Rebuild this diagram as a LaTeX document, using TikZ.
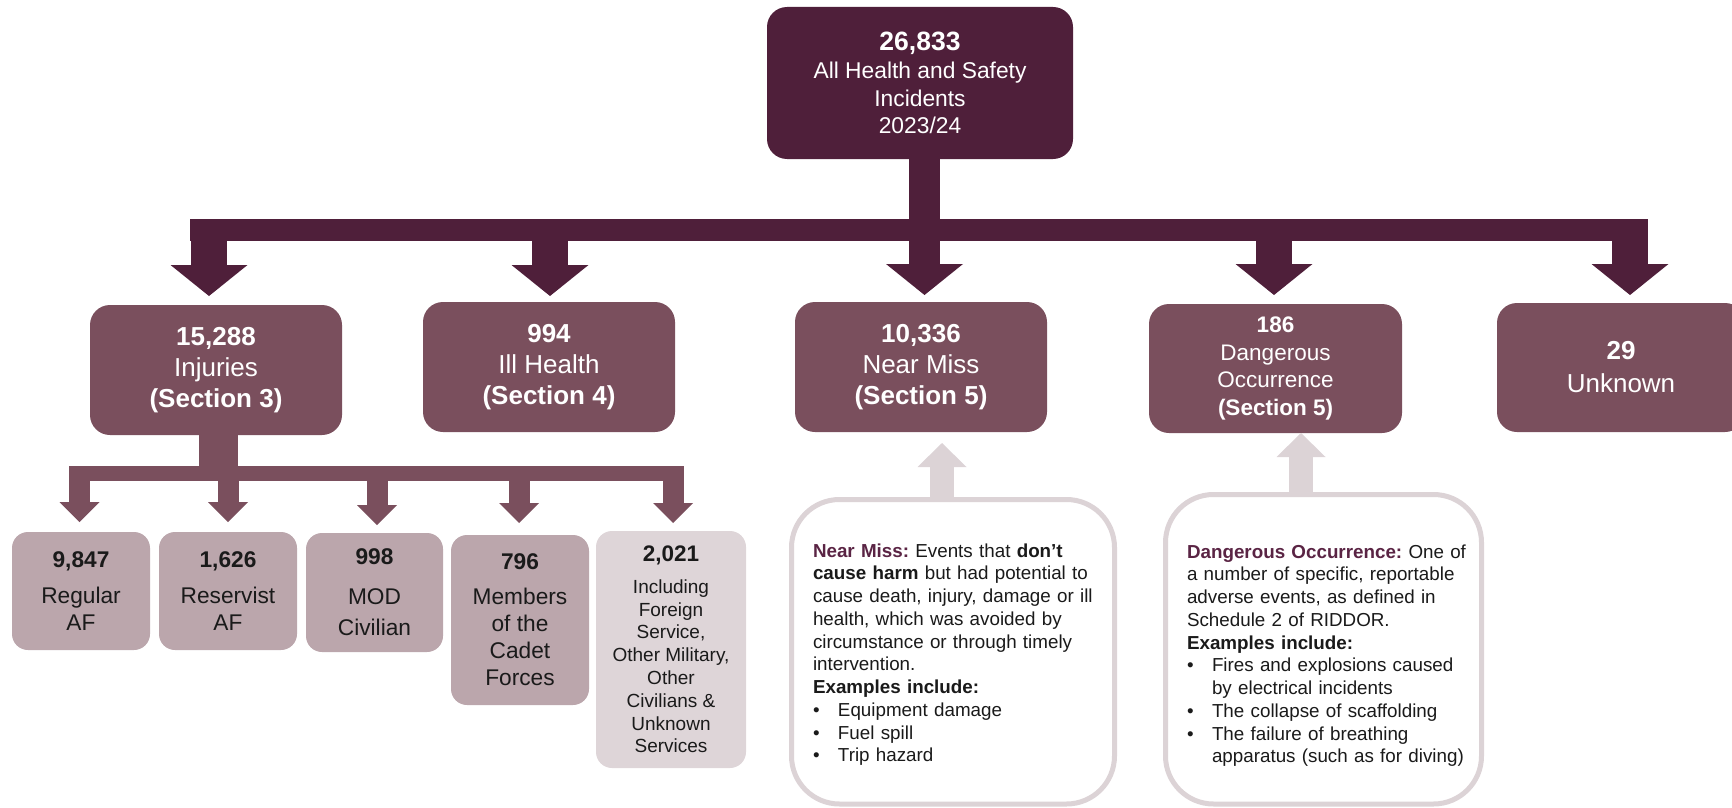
\documentclass[tikz,border=0pt]{standalone}
\usepackage{fontspec}
\setmainfont{Liberation Sans}
\usetikzlibrary{arrows.meta}
\definecolor{cdark}{HTML}{4F1F3A}
\definecolor{cmid}{HTML}{7A4F5D}
\definecolor{clight}{HTML}{BBA6AC}
\definecolor{clighter}{HTML}{DED5D8}
\definecolor{cborder}{HTML}{DCD3D6}
\definecolor{clabel}{HTML}{5A2444}
\definecolor{ctext}{HTML}{1A1A1A}
\newcommand{\myfs}[2]{\fontsize{#1}{#2}\selectfont}
\newcommand{\bul}{\makebox[25pt][l]{\textbullet}}
\frenchspacing
\begin{document}
\begin{tikzpicture}[x=1pt,y=-1pt,
  every node/.style={inner sep=0pt, outer sep=0pt},
  topbox/.style={fill=cdark, text=white, rounded corners=20pt, align=center},
  catbox/.style={fill=cmid, text=white, rounded corners=20pt, align=center, font=\myfs{26}{31}},
  subbox/.style={fill=clight, text=ctext, rounded corners=16pt, align=center, font=\myfs{22.7}{27}},
  subboxb/.style={fill=clighter, text=ctext, rounded corners=16pt, align=center, font=\myfs{19}{22.8}},
  descbox/.style={draw=cborder, line width=5pt, fill=white, rounded corners=48pt},
  desctext/.style={anchor=base west, align=left, text width=300pt, text=ctext, font=\myfs{18.8}{22.75}},
  darr/.style={draw=cdark, line width=36pt, -{Triangle[width=77pt,length=31pt,line width=0pt]}},
  sarr/.style={draw=cmid, line width=21pt, -{Triangle[width=40pt,length=20pt,line width=0pt]}},
  uarr/.style={draw=cborder, line width=24pt, -{Triangle[width=49pt,length=24pt,line width=0pt]}}
]
\useasboundingbox (0,0) rectangle (1732,808);
\clip (0,0) rectangle (1732,808);

% ---------- top ----------
\node[topbox, minimum width=306pt, minimum height=152pt, font=\myfs{22.8}{27.5}] (top) at (920,83)
  {{\myfs{26.5}{29}\textbf{26,833}}\\[1pt] All Health and Safety\\Incidents\\2023/24};

% ---------- categories ----------
\node[catbox, minimum width=252pt, minimum height=130pt] (inj) at (216,370)
  {\textbf{15,288}\\Injuries\\\textbf{(Section 3)}};
\node[catbox, minimum width=252pt, minimum height=130pt] (ill) at (549,367)
  {\textbf{994}\\Ill Health\\\textbf{(Section 4)}};
\node[catbox, minimum width=252pt, minimum height=130pt] (near) at (921,367)
  {\textbf{10,336}\\Near Miss\\\textbf{(Section 5)}};
\node[catbox, minimum width=253pt, minimum height=129pt, font=\myfs{22.5}{27.5}] (dang) at (1275.5,368.5)
  {\textbf{186}\\Dangerous\\Occurrence\\\textbf{(Section 5)}};
\node[catbox, minimum width=248pt, minimum height=129pt] (unk) at (1621,367.5)
  {\textbf{29}\\[2pt]Unknown};

% ---------- dark bus ----------
\coordinate (dA) at (209,219);
\coordinate (dB) at (550,219);
\coordinate (dC) at (924.5,219);
\coordinate (dD) at (1274,219);
\coordinate (dE) at (1630,219);
\fill[cdark] ([xshift=-19pt]dA) rectangle ([xshift=18pt,yshift=-22pt]dE);
\draw[cdark, line width=31pt] (top.south -| dC) -- ([yshift=-8pt]dC);
\draw[darr] (dA) -- ([yshift=9pt]dA |- inj.north);
\draw[darr] (dB) -- ([yshift=6pt]dB |- ill.north);
\draw[darr, line width=31pt] (dC) -- ([yshift=7pt]dC |- near.north);
\draw[darr] (dD) -- ([yshift=9pt]dD |- dang.north);
\draw[darr] (dE) -- ([yshift=8pt]dE |- unk.north);

% ---------- sub boxes ----------
\node[subbox, minimum width=138pt, minimum height=118pt] (reg) at (81,591)
  {\textbf{9,847}\\[9pt]Regular\\AF};
\node[subbox, minimum width=138pt, minimum height=118pt] (res) at (228,591)
  {\textbf{1,626}\\[9pt]Reservist\\AF};
\node[subbox, minimum width=137pt, minimum height=119pt] (mod) at (374.5,592.5)
  {\textbf{998}\\[13pt]MOD\\[4pt]Civilian};
\node[subbox, minimum width=138pt, minimum height=170pt] (cad) at (520,620)
  {\textbf{796}\\[8pt]Members\\of the\\Cadet\\Forces};
\node[subboxb, minimum width=150pt, minimum height=237pt] (oth) at (671,649.5)
  {{\myfs{22.5}{26}\textbf{2,021}}\\[9pt]Including\\Foreign\\Service,\\Other Military,\\Other\\Civilians \&\\Unknown\\Services};

% ---------- sub bus ----------
\coordinate (sA) at (79.5,466);
\coordinate (sB) at (228,466);
\coordinate (sC) at (377,466);
\coordinate (sD) at (519,466);
\coordinate (sE) at (673,466);
\fill[cmid] ([xshift=-10.5pt]sA) rectangle ([xshift=10pt,yshift=-15pt]sE);
\draw[cmid, line width=39pt] ([xshift=2.5pt]inj.south) -- ([xshift=2.5pt,yshift=-6pt]inj.south |- sA);
\draw[sarr] (sA) -- ([yshift=10pt]sA |- reg.north);
\draw[sarr] (sB) -- ([yshift=10pt]sB |- res.north);
\draw[sarr] (sC) -- ([yshift=8pt]sC |- mod.north);
\draw[sarr] (sD) -- ([yshift=12pt]sD |- cad.north);
\draw[sarr] (sE) -- ([yshift=8pt]sE |- oth.north);

% ---------- description boxes ----------
\node[descbox, minimum width=323pt, minimum height=304.5pt] (nmd) at (953,651.75) {};
\node[descbox, minimum width=316pt, minimum height=309.5pt] (dod) at (1323.5,649.25) {};
\coordinate (uA) at (942,0);
\coordinate (uB) at (1301,0);
\draw[uarr] (uA |- nmd.north) -- ([yshift=-11pt]uA |- near.south);
\draw[uarr] (uB |- dod.north) -- (uB |- dang.south);

\node[desctext] (nmt) at (813,557)
  {\textcolor{clabel}{\textbf{Near Miss:}} Events that \textbf{don’t}\\
   \textbf{cause harm} but had potential to\\
   cause death, injury, damage or ill\\
   health, which was avoided by\\
   circumstance or through timely\\
   intervention.\\
   \textbf{Examples include:}\\
   \bul Equipment damage\\
   \bul Fuel spill\\
   \bul Trip hazard};
\node[desctext] (ddt) at (1187,558)
  {\textcolor{clabel}{\textbf{Dangerous Occurrence:}} One of\\
   a number of specific, reportable\\
   adverse events, as defined in\\
   Schedule 2 of RIDDOR.\\
   \textbf{Examples include:}\\
   \bul Fires and explosions caused\\
   \hspace*{25pt}by electrical incidents\\
   \bul The collapse of scaffolding\\
   \bul The failure of breathing\\
   \hspace*{25pt}apparatus (such as for diving)};
\end{tikzpicture}
\end{document}
